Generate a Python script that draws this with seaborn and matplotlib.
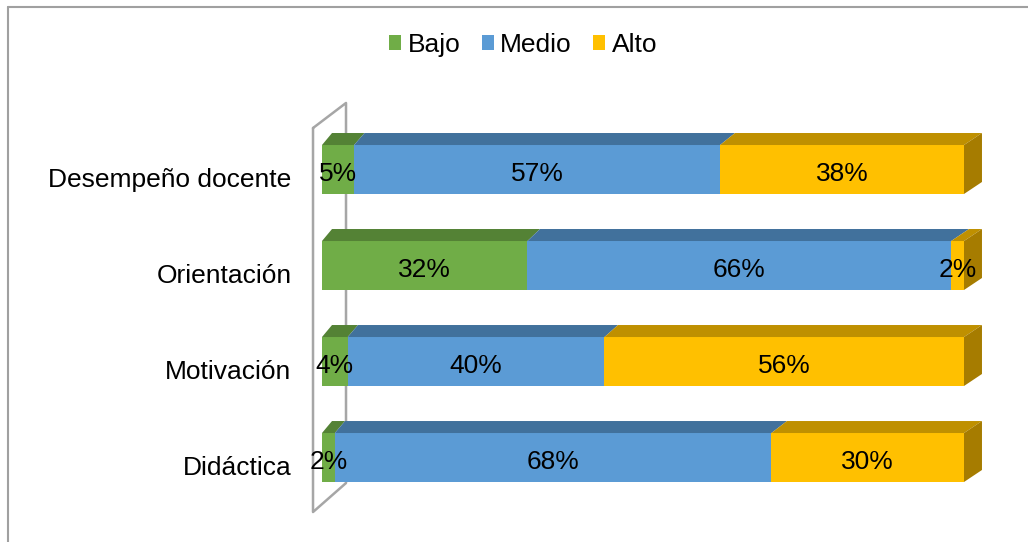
import pandas as pd
import matplotlib.pyplot as plt
import seaborn as sns
from matplotlib.patches import Polygon, Patch
from matplotlib.lines import Line2D

categorias = ['Desempeño docente', 'Orientación', 'Motivación', 'Didáctica']
bajo = [5, 32, 4, 2]
medio = [57, 66, 40, 68]
alto = [38, 2, 56, 30]
niveles = ['Bajo', 'Medio', 'Alto']

colores = {'Bajo': '#70AD47', 'Medio': '#5B9BD5', 'Alto': '#FFC000'}
colores_sup = {'Bajo': '#548235', 'Medio': '#41719C', 'Alto': '#BF9000'}
color_lado = '#A67C00'

df = pd.DataFrame({'Categoria': categorias, 'Bajo': bajo, 'Medio': medio, 'Alto': alto})
df['c_bajo'] = df['Bajo']
df['c_medio'] = df['Bajo'] + df['Medio']
df['c_alto'] = df['c_medio'] + df['Alto']

sns.set_style("white")
plt.rcParams['font.family'] = ['Liberation Sans', 'DejaVu Sans']
plt.rcParams['text.color'] = 'black'
plt.rcParams['ytick.color'] = 'black'
fs = 19

fig = plt.figure(figsize=(10.28, 5.42), dpi=100)
ax = fig.add_axes([322 / 1028, 0.0142, 642 / 1028, 0.8325])

alto_barra = 0.51
# barras frontales apiladas (acumuladas, de mayor a menor)
for col, nivel in [('c_alto', 'Alto'), ('c_medio', 'Medio'), ('c_bajo', 'Bajo')]:
    sns.barplot(data=df, x=col, y='Categoria', color=colores[nivel], orient='h',
                width=alto_barra, saturation=1, ax=ax, zorder=3, linewidth=0)

# efecto 3D
def desp(x):
    return 1.56 + 1.24 * x / 100

dy = 0.125
for i in range(len(categorias)):
    izq = 0
    top = i - alto_barra / 2
    bot = i + alto_barra / 2
    for nivel, valores in zip(niveles, [bajo, medio, alto]):
        der = izq + valores[i]
        ax.add_patch(Polygon([(izq, top), (der, top), (der + desp(der), top - dy),
                              (izq + desp(izq), top - dy)], closed=True,
                             facecolor=colores_sup[nivel], edgecolor='none', zorder=3, clip_on=False))
        ax.text((izq + der) / 2, i + 0.045, f'{valores[i]}%', ha='center', va='center',
                fontsize=fs, color='black', zorder=5)
        izq = der
    ax.add_patch(Polygon([(izq, top), (izq + desp(izq), top - dy), (izq + desp(izq), bot - dy),
                          (izq, bot)], closed=True, facecolor=color_lado, edgecolor='none',
                         zorder=3, clip_on=False))

# pared lateral
xf, xb = -1.4, 3.74
pared = [(xf, -0.432), (xb, -0.693), (xb, 3.266), (xf, 3.568), (xf, -0.432)]
ax.plot([p[0] for p in pared], [p[1] for p in pared], color='#A6A6A6', lw=1.8,
        zorder=1, clip_on=False)

ax.set_xlim(0, 100)
ax.set_ylim(3.8, -0.9)
ax.set_yticks([i + 0.083 for i in range(len(categorias))])
ax.set_yticklabels(categorias, fontsize=fs, color='black')
ax.tick_params(axis='y', length=0, pad=22)
ax.set_xticks([])
ax.set_xlabel('')
ax.set_ylabel('')
for s in ax.spines.values():
    s.set_visible(False)

handles = [Patch(facecolor=colores[n], edgecolor='none', label=n) for n in niveles]
fig.legend(handles=handles, loc='center', bbox_to_anchor=(0.509, 0.917), ncol=3,
           frameon=False, fontsize=fs, handlelength=0.45, handleheight=0.45,
           handletextpad=0.25, columnspacing=0.8, labelcolor='black')

# borde del gráfico (solo izquierda y arriba visibles)
bx, by = 7.5 / 1028, 1 - 6.5 / 542
fig.lines.append(Line2D([bx, bx], [0, by], transform=fig.transFigure, color='#A0A0A0', lw=1.5))
fig.lines.append(Line2D([bx, 1], [by, by], transform=fig.transFigure, color='#A0A0A0', lw=1.5))

plt.savefig('out.png', dpi=100)
